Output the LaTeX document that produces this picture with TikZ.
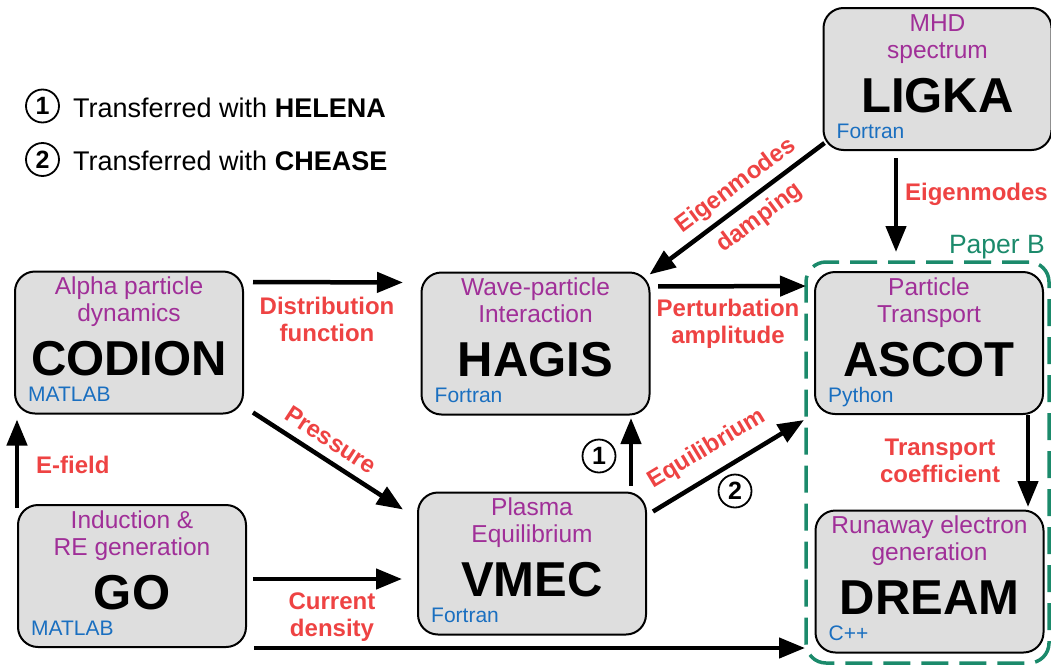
\documentclass[tikz,border=0pt]{standalone}
\usepackage{fontspec}
\setmainfont{Liberation Sans}
\usetikzlibrary{arrows.meta}
\usetikzlibrary{positioning}

\definecolor{descpurple}{HTML}{A02F98}
\definecolor{langblue}{HTML}{1A6FC0}
\definecolor{lblred}{HTML}{EE4343}
\definecolor{papergreen}{HTML}{1B8A6B}
\definecolor{boxgray}{HTML}{DEDEDE}

% one code box: name, centre, two lines of description, code name, language
\newcommand{\codebox}[6]{%
    \node[tool] (#1) at (#2) {};
    \node[desctxt, anchor=base] (#1da) at ([yshift=-24pt]#1.north) {#3};
    \node[desctxt, anchor=base] (#1db) at ([yshift=-51pt]#1.north) {#4};
    \node[toolname, anchor=base] (#1nm) at ([yshift=-105pt]#1.north) {#5};
    \node[langtxt, anchor=base west] (#1lg) at ([xshift=14pt,yshift=-131pt]#1.north west) {#6};
}

\begin{document}
\begin{tikzpicture}[x=1pt, y=-1pt,
    tool/.style={draw=black, line width=2pt, fill=boxgray, rounded corners=20pt, minimum width=228pt, minimum height=142pt, inner sep=0pt},
    desctxt/.style={text=descpurple, font=\fontsize{24.5}{27}\selectfont, inner sep=0pt},
    toolname/.style={font=\fontsize{49}{55}\selectfont\bfseries, inner sep=0pt},
    langtxt/.style={text=langblue, font=\fontsize{21}{24}\selectfont, inner sep=0pt},
    lbl/.style={text=lblred, font=\fontsize{24}{27}\selectfont\bfseries, align=center, inner sep=0pt},
    arr/.style={-{Triangle[length=26pt,width=20pt]}, line width=4.5pt},
    numcirc/.style={circle, draw, line width=1.8pt, minimum size=33pt, inner sep=0pt, font=\fontsize{25}{27}\selectfont\bfseries}]

    \useasboundingbox (0,0) rectangle (1051,664);

    % Legend
    \node[numcirc] (leg1) at (42.5,106) {1};
    \node[anchor=base west, font=\fontsize{27}{30}\selectfont, inner sep=0pt] (leg1txt) at (73,117) {Transferred with \textbf{HELENA}};
    \node[numcirc] (leg2) at (42.5,159.5) {2};
    \node[anchor=base west, font=\fontsize{27}{30}\selectfont, inner sep=0pt] (leg2txt) at (73,170) {Transferred with \textbf{CHEASE}};

    % Paper B frame
    \node[draw=papergreen, line width=3.5pt, dash pattern=on 27pt off 11pt, rounded corners=20pt, minimum width=243pt, minimum height=401pt] (paperb) at (927.5,462.5) {};
    \node[anchor=base east, text=papergreen, font=\fontsize{26.5}{30}\selectfont, inner sep=0pt] (paperbtxt) at (1045,253) {Paper B};

    % Codes
    \codebox{codion}{129,342.5}{Alpha particle}{dynamics}{CODION}{MATLAB}
    \codebox{hagis}{535.5,343.5}{Wave-particle}{Interaction}{HAGIS}{Fortran}
    \codebox{ascot}{929,343}{Particle}{Transport}{ASCOT}{Python}
    \codebox{ligka}{937.5,79}{MHD}{spectrum}{LIGKA}{Fortran}
    \codebox{go}{132,576}{Induction \&}{RE generation}{GO}{MATLAB}
    \codebox{vmec}{532,563.5}{Plasma}{Equilibrium}{VMEC}{Fortran}
    \codebox{dream}{929.5,581.5}{Runaway electron}{generation}{DREAM}{C++}

    % CODION to HAGIS
    \draw[arr, shorten <=9pt, shorten >=17.5pt] ([yshift=-11.5pt]codion.north east) -- ([yshift=-11pt]hagis.north west);
    \node[lbl] (distlbl) at (327,319) {Distribution\\function};

    % CODION to VMEC
    \draw[arr] ([xshift=9pt,yshift=2pt]codion.south east) -- ([xshift=-14pt,yshift=-18pt]vmec.north west);
    \node[lbl, rotate=-33] (preslbl) at (331,440) {Pressure};

    % GO to CODION
    \draw[arr, shorten >=5pt] ([yshift=-4pt]go.north west) -- (go.north west |- codion.south);
    \node[lbl, anchor=base west] (efieldlbl) at (36,473) {E-field};

    % GO to VMEC
    \draw[arr, shorten <=6pt, shorten >=15pt] ([yshift=-3pt]go.east) -- ([yshift=-3pt]go.east -| vmec.west);
    \node[lbl] (curlbl) at (332,617) {Current\\density};

    % GO to DREAM
    \draw[arr, shorten <=7pt, shorten >=9.5pt] (go.south east) -- (go.south east -| dream.west);

    % VMEC to HAGIS
    \draw[arr, shorten >=2.5pt] ([xshift=-16pt,yshift=6pt]vmec.north east) -- ([xshift=-16pt]vmec.north east |- hagis.south);
    \node[numcirc] (num1) at (599,456) {1};

    % VMEC to ASCOT
    \draw[arr] ([xshift=6pt,yshift=-20pt]vmec.north east) -- ([xshift=-10pt,yshift=-5pt]ascot.south west);
    \node[lbl, rotate=31] (equilbl) at (707,449) {Equilibrium};
    \node[numcirc] (num2) at (735,491) {2};

    % HAGIS to ASCOT
    \draw[arr, shorten <=7.5pt, shorten >=8pt] ([yshift=-15pt]hagis.north east) -- ([yshift=-15pt]ascot.north west);
    \node[lbl] (pertlbl) at (728,324) {Perturbation\\amplitude};

    % LIGKA to HAGIS
    \draw[arr] ([xshift=2pt,yshift=8pt]ligka.south west) -- ([xshift=-1pt,yshift=-3pt]hagis.north east);
    \node[lbl, rotate=36.6, font=\fontsize{24}{40}\selectfont\bfseries] (damplbl) at (748,202) {Eigenmodes\\damping};

    % LIGKA to ASCOT
    \draw[arr, shorten >=19pt] ([xshift=73.5pt,yshift=-7pt]ligka.south west) -- ([xshift=73.5pt]ligka.south west |- ascot.north);
    \node[lbl, anchor=base east] (eigenlbl) at (1048,200) {Eigenmodes};

    % ASCOT to DREAM
    \draw[arr, shorten >=2.5pt] ([xshift=-16pt]ascot.south east) -- ([xshift=-16pt]ascot.south east |- dream.north);
    \node[lbl] (translbl) at (940,461) {Transport\\coefficient};

\end{tikzpicture}
\end{document}
